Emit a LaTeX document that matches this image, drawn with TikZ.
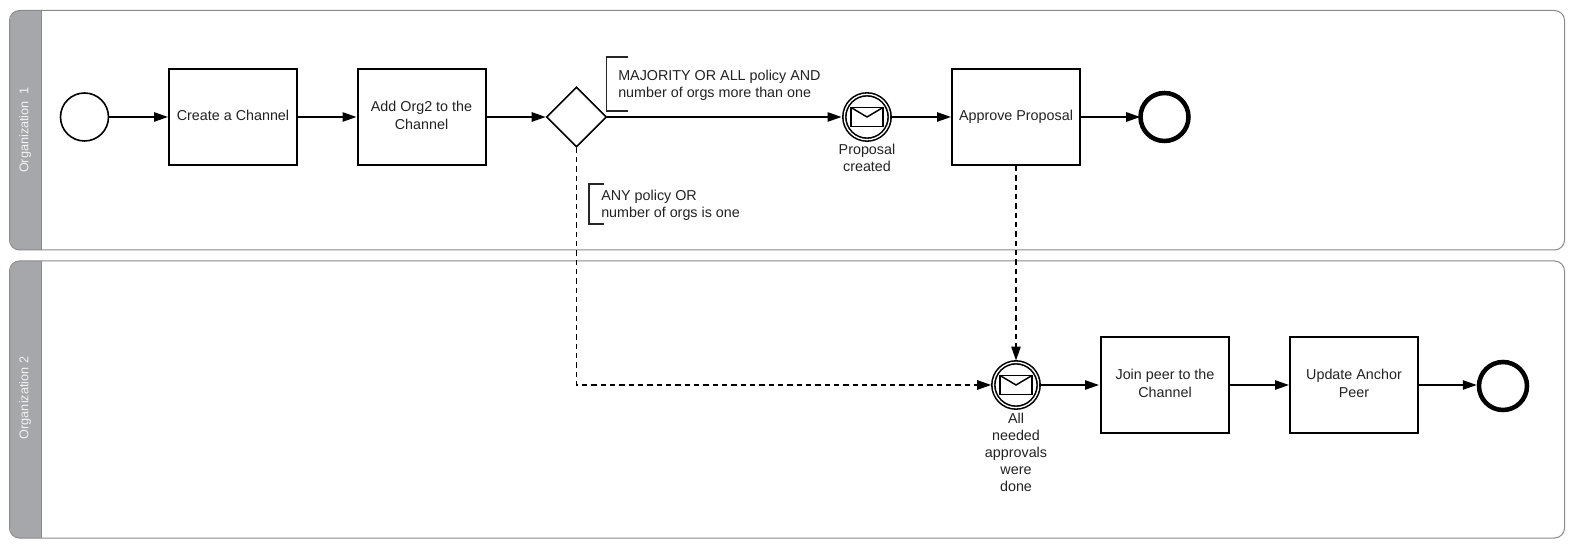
\documentclass[tikz,border=0pt]{standalone}
\usepackage{fontspec}
\setmainfont{Liberation Sans}
\usetikzlibrary{arrows.meta,shapes.geometric,calc}
\definecolor{lanegray}{HTML}{A6A7AA}
\definecolor{laneedge}{HTML}{8A8A8A}
\definecolor{inktext}{HTML}{222222}
\newcommand{\tasktext}[1]{\raisebox{1.6pt}{\parbox{90pt}{\centering\strut #1\strut}}}
\tikzset{
  x=0.75pt,y=-0.75pt,
  every node/.style={font=\fontsize{10.75pt}{12.9pt}\selectfont,text=inktext},
  lanebox/.style={draw=laneedge,line width=0.75pt,rounded corners=7.5pt},
  lanehead/.style={fill=lanegray,rounded corners=7.5pt},
  lanetext/.style={rotate=90,text=white!85!lanegray,font=\fontsize{9.5pt}{11pt}\selectfont},
  taskbox/.style={draw=black,line width=1.5pt,minimum width=96pt,minimum height=72pt,inner sep=0pt,align=center},
  startev/.style={circle,draw=black,line width=1.2pt,minimum size=36pt,inner sep=0pt},
  endev/.style={circle,draw=black,line width=3.4pt,minimum size=36pt,inner sep=0pt},
  gate/.style={diamond,draw=black,line width=1.2pt,minimum width=45pt,minimum height=45pt,inner sep=0pt,aspect=1},
  msgev/.style={circle,draw=black,line width=1.2pt,double=white,double distance=1pt,minimum size=34pt,inner sep=0pt},
  flow/.style={draw=black,line width=1.2pt,-{Triangle[length=10.5pt,width=7pt]}},
  msgflow/.style={flow,dash pattern=on 4pt off 3pt},
  env/.style={draw=black,line width=1.1pt,line join=miter},
  brack/.style={draw=black!85,line width=0.9pt},
  eventlabel/.style={align=center,anchor=north,inner sep=0pt},
  notelabel/.style={align=left,anchor=west,inner sep=0pt},
}
\begin{document}
\begin{tikzpicture}
\useasboundingbox (0,0) rectangle (1574,548);
\fill[white] (0,0) rectangle (1574,548);
% lanes
\fill[lanehead] (10,10.5) rectangle (50,250);
\fill[white] (41,9) rectangle (60,252);
\draw[lanebox] (9.5,10.5) rectangle (1564.5,250);
\draw[laneedge,line width=0.6pt] (41,10.5) -- (41,250);
\fill[lanehead] (10,261) rectangle (50,538);
\fill[white] (41,260) rectangle (60,540);
\draw[lanebox] (9.5,261) rectangle (1564.5,538);
\draw[laneedge,line width=0.6pt] (41,261) -- (41,538);
\node[lanetext] (lane1) at (25,130) {Organization\ \ 1};
\node[lanetext] (lane2) at (25,398) {Organization 2};
% tasks
\node[startev] (start) at (84.5,117) {};
\node[taskbox] (create) at (233,117) {\tasktext{Create a Channel}};
\node[taskbox] (addorg) at (421.5,117) {\tasktext{Add Org2 to the\\Channel}};
\node[gate] (gw) at (576.5,117) {};
\node[msgev] (prop) at (867,117) {};
\node[taskbox] (approve) at (1016,117) {\tasktext{Approve Proposal}};
\node[endev] (end1) at (1164.5,117) {};
\node[msgev] (appr) at (1016,385) {};
\node[taskbox] (join) at (1165,385) {\tasktext{Join peer to the\\Channel}};
\node[taskbox] (update) at (1354,385) {\tasktext{Update Anchor\\Peer}};
\node[endev] (end2) at (1503,386) {};
% envelopes
\foreach \e in {prop,appr}{
  \draw[env] ($(\e.center)+(-16,-9.5)$) rectangle ($(\e.center)+(16,9.5)$);
  \draw[env] ($(\e.center)+(-16,-9.5)$) -- ($(\e.center)+(0,0)$) -- ($(\e.center)+(16,-9.5)$);
}
% labels
\node[eventlabel] (proplabel) at (867,143.5) {Proposal\\created};
\node[eventlabel] (apprlabel) at (1016,412.5) {All\\needed\\approvals\\were\\done};
\node[notelabel] (note1) at (618,85) {MAJORITY OR ALL policy AND\\number of orgs more than one};
\node[notelabel] (note2) at (601,205) {ANY policy OR\\number of orgs is one};
\draw[brack] (628,57) -- (606.5,57) -- (606.5,111) -- (628,111);
\draw[brack] (604,184) -- (589,184) -- (589,224) -- (604,224);
% flows
\draw[flow] (start) -- (create);
\draw[flow] (create) -- (addorg);
\draw[flow] (addorg) -- (gw);
\draw[flow,shorten >=1.5pt] (gw) -- (prop);
\draw[flow] (prop) -- (approve);
\draw[flow,shorten >=-1.5pt] (approve) -- (end1);
\draw[flow,shorten >=0.75pt] (appr) -- (join);
\draw[flow] (join) -- (update);
\draw[flow] (update) -- (update.east -| end2.west);
\draw[msgflow,shorten >=1pt] (gw.south) |- (appr.west);
\draw[msgflow,shorten >=0.75pt] (approve.south) -- (appr.north);
\end{tikzpicture}
\end{document}
